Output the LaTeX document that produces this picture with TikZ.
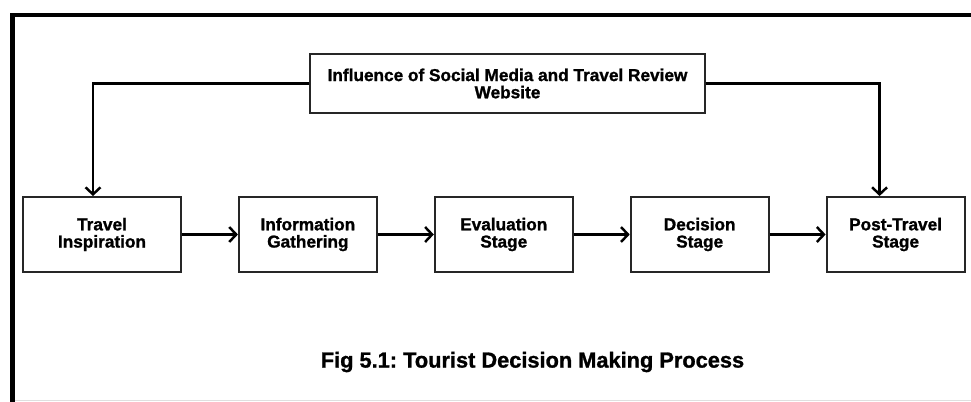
\documentclass[tikz,border=0pt]{standalone}
\usepackage{fontspec}
\setmainfont{Liberation Sans}
\newfontfamily\heavysf[FakeBold=1.2]{Liberation Sans Bold}
\usepackage{xcolor}
\usetikzlibrary{arrows,arrows.meta,positioning}
\definecolor{boxline}{RGB}{38,38,38}
\begin{document}
\frenchspacing
\begin{tikzpicture}[x=0.02cm,y=-0.02cm,
  stagebox/.style={draw=boxline,line width=1.1pt,fill=white,minimum width=2.76cm,minimum height=1.5cm,inner sep=0pt,align=center,font=\fontsize{9.8}{9.8}\heavysf},
  influbox/.style={draw=boxline,line width=1.1pt,fill=white,minimum width=7.9cm,minimum height=1.18cm,inner sep=0pt,align=center,font=\fontsize{9.8}{9.8}\heavysf},
  flow/.style={line width=1.4pt,-{Straight Barb[length=4pt,width=8.5pt]}}
]
\useasboundingbox (0,0) rectangle (971,402);

% frame
\draw[line width=2.3pt] (12.5,402) -- (12.5,15) -- (971,15);
\draw[gray!25,line width=0.5pt] (15,400.5) -- (971,400.5);

\node[influbox] at (507.5,83.5) (Inf) {Influence of Social Media and Travel Review\\Website};

\node[stagebox,minimum width=3.16cm] at (102,234.5) (S1) {Travel\\Inspiration};
\node[stagebox, right =1.12 cm of S1] (S2) {Information\\Gathering};
 \node[stagebox, right =1.12 cm of S2] (S3) {Evaluation\\Stage};
 \node[stagebox, right =1.12 cm of S3] (S4) {Decision\\Stage};
 \node[stagebox, right =1.12 cm of S4] (S5) {Post-Travel\\Stage};

\node[font=\fontsize{12.4}{14}\heavysf] at (532.5,362) (Cap) {Fig 5.1: Tourist Decision Making Process};

\path[flow]
(S1) edge (S2)
(S2) edge (S3)
(S3) edge (S4)
(S4) edge (S5);

\draw[flow] (Inf.west) -| ([xshift=-0.18cm]S1.north);
\draw[flow] (Inf.east) -| ([xshift=-0.32cm]S5.north);

\end{tikzpicture}
\end{document}
